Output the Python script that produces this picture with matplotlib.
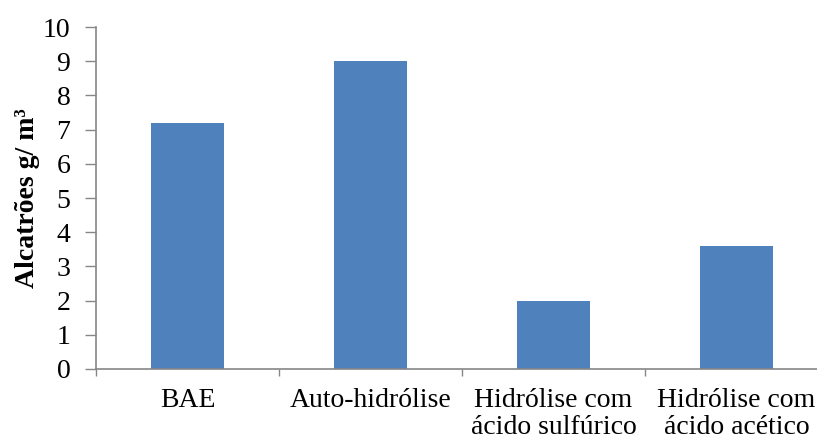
import matplotlib
matplotlib.use("Agg")
import matplotlib.pyplot as plt
import numpy as np

categories = ["BAE", "Auto-hidrólise", "Hidrólise com\nácido sulfúrico", "Hidrólise com\nácido acético"]
values = [7.2, 9.0, 2.0, 3.6]
yticks = list(range(0, 11))

plt.rcParams['font.family'] = ['Liberation Serif', 'DejaVu Serif']

fig = plt.figure(figsize=(8.17, 4.41), dpi=100)
ax = fig.add_axes([96/817, 1-369/441, 732/817, 342/441])

x = np.arange(len(categories))
ax.bar(x, values, width=0.4, color="#4F81BD", zorder=2)

ax.set_xlim(-0.5, len(categories) - 0.5)
ax.set_ylim(0, 10)
ax.set_yticks(yticks)
ax.set_yticklabels([str(t) for t in yticks], fontsize=20)

ax.set_xticks(np.arange(-0.5, len(categories)), minor=False)
ax.set_xticklabels([])
ax.set_xticks(x, minor=True)
ax.set_xticklabels(categories, minor=True, fontsize=20, linespacing=1.1)
ax.tick_params(axis='x', which='minor', length=0, pad=14)
ax.tick_params(axis='x', which='major', length=5, color="#868686", width=1)
ax.tick_params(axis='y', length=8, color="#868686", width=1, pad=10.5)

for s in ["top", "right"]:
    ax.spines[s].set_visible(False)
for s in ["left", "bottom"]:
    ax.spines[s].set_color("#868686")
    ax.spines[s].set_linewidth(1.2)

ax.set_ylabel("Alcatrões g/ m³", fontsize=20, fontweight="bold", labelpad=2)

fig.savefig("out.png", dpi=100)
